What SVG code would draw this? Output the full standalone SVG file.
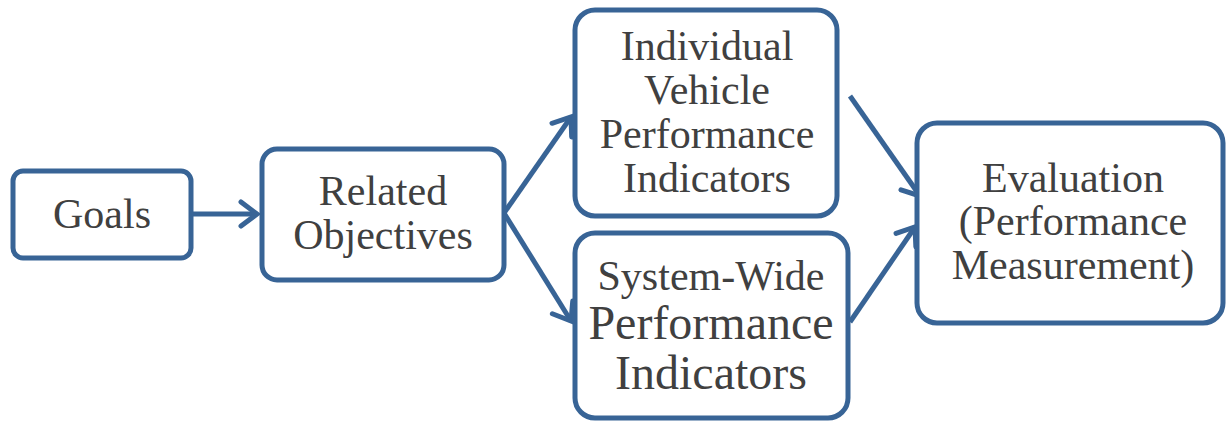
<svg xmlns="http://www.w3.org/2000/svg" width="1226" height="423" viewBox="0 0 1226 423">
<style>
.box{fill:#fff;stroke:#386496;stroke-width:5}
.con{fill:none;stroke:#386496;stroke-width:5}
text{font-family:"Liberation Serif","Times New Roman",serif;fill:#404040;text-anchor:middle;font-size:42px}
.big{font-size:48px}
</style>
<defs>
<marker id="arr" markerUnits="userSpaceOnUse" markerWidth="30" markerHeight="30" refX="2" refY="15" orient="auto" viewBox="-20 0 30 30">
<path d="M-14,3 L2,15 L-14,27" fill="none" stroke="#386496" stroke-width="5" stroke-linecap="round" stroke-linejoin="miter"/>
</marker>
</defs>
<rect width="1226" height="423" fill="#fff"/>
<g id="connectors">
<line class="con" x1="191" y1="214" x2="257" y2="214" marker-end="url(#arr)"/>
<line class="con" x1="504" y1="213" x2="571" y2="117" marker-end="url(#arr)"/>
<line class="con" x1="504" y1="213" x2="571" y2="321" marker-end="url(#arr)"/>
<line class="con" x1="850" y1="96" x2="920" y2="196" marker-end="url(#arr)"/>
<line class="con" x1="850" y1="322" x2="915" y2="227" marker-end="url(#arr)"/>
</g>
<g id="goals">
<rect class="box" x="13" y="171" width="178" height="87" rx="10"/>
<text x="102" y="228">Goals</text>
</g>
<g id="related">
<rect class="box" x="262" y="149" width="242" height="131" rx="15"/>
<text x="383" y="205">Related</text>
<text x="383" y="249">Objectives</text>
</g>
<g id="individual">
<rect class="box" x="575" y="10" width="262" height="206" rx="20"/>
<text x="707" y="60">Individual</text>
<text x="707" y="104">Vehicle</text>
<text x="707" y="148">Performance</text>
<text x="707" y="192">Indicators</text>
</g>
<g id="systemwide">
<rect class="box" x="575" y="233" width="273" height="185" rx="20"/>
<text x="711" y="290">System-Wide</text>
<text class="big" x="711" y="339">Performance</text>
<text class="big" x="711" y="389">Indicators</text>
</g>
<g id="evaluation">
<rect class="box" x="917" y="123" width="306" height="200" rx="20"/>
<text x="1073" y="192">Evaluation</text>
<text x="1073" y="235">(Performance</text>
<text x="1073" y="279">Measurement)</text>
</g>
</svg>
